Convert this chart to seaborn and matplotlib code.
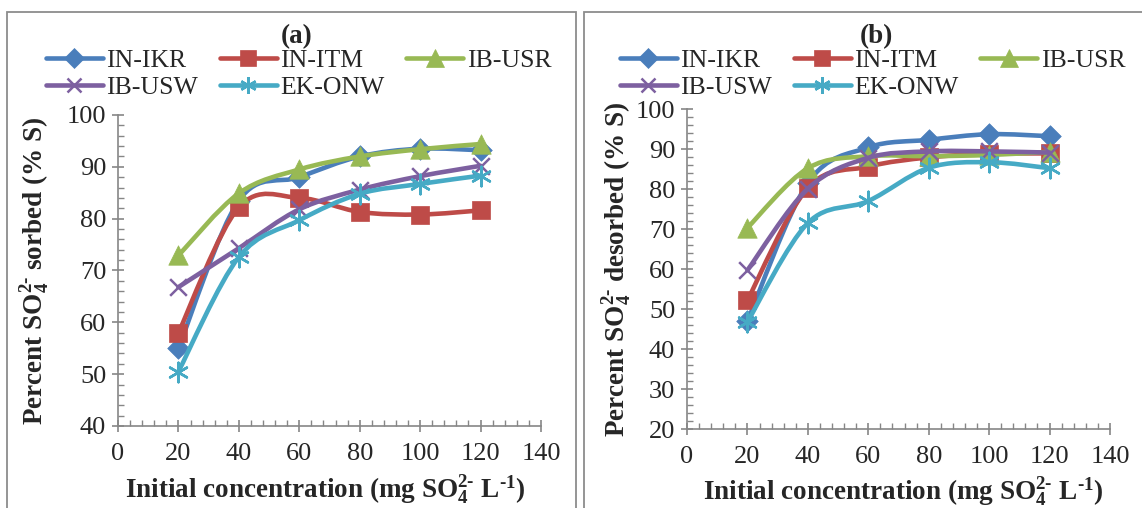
import numpy as np
import pandas as pd
import matplotlib
matplotlib.use("Agg")
import matplotlib.pyplot as plt
import seaborn as sns
from matplotlib.path import Path
from matplotlib.patches import PathPatch, Rectangle
from matplotlib.lines import Line2D

# ---------------- data ----------------
conc = [20, 40, 60, 80, 100, 120]
series_names = ["IN-IKR", "IN-ITM", "IB-USR", "IB-USW", "EK-ONW"]

# (a) percent sorbed
a_in_ikr = [55.0, 83.5, 88.0, 92.0, 93.5, 93.2]
a_in_itm = [58.0, 82.2, 84.0, 81.3, 80.8, 81.6]
a_ib_usr = [72.9, 84.9, 89.5, 92.0, 93.4, 94.4]
a_ib_usw = [66.8, 74.3, 81.8, 85.6, 88.2, 90.2]
a_ek_onw = [50.5, 72.6, 79.7, 84.8, 86.7, 88.3]

# (b) percent desorbed
b_in_ikr = [47.0, 81.5, 90.4, 92.3, 93.7, 93.2]
b_in_itm = [52.2, 80.3, 85.6, 87.9, 88.8, 88.9]
b_ib_usr = [70.3, 85.2, 88.2, 88.2, 88.5, 89.3]
b_ib_usw = [59.7, 80.1, 87.8, 89.4, 89.4, 89.1]
b_ek_onw = [46.8, 71.5, 77.0, 85.3, 86.7, 85.2]

panel_a = [a_in_ikr, a_in_itm, a_ib_usr, a_ib_usw, a_ek_onw]
panel_b = [b_in_ikr, b_in_itm, b_ib_usr, b_ib_usw, b_ek_onw]

x_ticks = [0, 20, 40, 60, 80, 100, 120, 140]

# ---------------- style ----------------
sns.set_theme(style="white")
plt.rcParams["font.family"] = ["Liberation Serif", "DejaVu Serif"]
plt.rcParams["mathtext.fontset"] = "custom"
plt.rcParams["mathtext.rm"] = "Liberation Serif"
plt.rcParams["mathtext.it"] = "Liberation Serif:italic"
plt.rcParams["mathtext.bf"] = "Liberation Serif:bold"

colors = ["#4A7EBB", "#BE4B48", "#98B954", "#7D60A0", "#46AAC5"]
markers = ["D", "s", "^", "x", (6, 2, 0)]
msizes = [11, 13, 14, 12, 14]
GRAY = "#868686"
FS_TICK = 19
FS = 19.5
FS_LEG = 18.5
LW = 3.3
HY = "\u2010"  # typographic hyphen (no operator spacing in mathtext)

fig = plt.figure(figsize=(11.42, 5.08), dpi=100)

# panel borders (chart area frames)
fig.patches.append(Rectangle((7 / 1142, -0.02), (576 - 7) / 1142, 1.02 - 12 / 508,
                             transform=fig.transFigure, fill=False, edgecolor="#8c8c8c", lw=1.3))
fig.patches.append(Rectangle((584 / 1142, -0.02), 0.6, 1.02 - 12 / 508,
                             transform=fig.transFigure, fill=False, edgecolor="#8c8c8c", lw=1.3))

ax_a = fig.add_axes([118 / 1142, 1 - 426 / 508, 423 / 1142, 311 / 508])
ax_b = fig.add_axes([687 / 1142, 1 - 429 / 508, 423 / 1142, 320 / 508])


def smooth_path(xs, ys):
    """Excel-style smoothed line: cubic Bezier through the data points (Catmull-Rom)."""
    pts = np.column_stack([xs, ys]).astype(float)
    n = len(pts)
    verts = [pts[0]]
    codes = [Path.MOVETO]
    for i in range(n - 1):
        p0 = pts[i - 1] if i > 0 else pts[i]
        p1 = pts[i]
        p2 = pts[i + 1]
        p3 = pts[i + 2] if i + 2 < n else pts[i + 1]
        c1 = p1 + (p2 - p0) / 6.0
        c2 = p2 - (p3 - p1) / 6.0
        verts += [c1, c2, p2]
        codes += [Path.CURVE4] * 3
    return Path(verts, codes)


SO4 = r"SO$_\mathbf{4}^\mathbf{2" + HY + "}$"
XLABEL = r"Initial concentration (mg " + SO4 + r" L$^\mathbf{" + HY + "1}$)"


def draw_panel(ax, data, ylim, yticks, ylabel, title, legend_x, title_x):
    for k, (name, ys) in enumerate(zip(series_names, data)):
        c = colors[k]
        patch = PathPatch(smooth_path(conc, ys), facecolor="none", edgecolor=c,
                          lw=LW, capstyle="round", joinstyle="round",
                          transform=ax.transData, zorder=2 + 2 * k)
        ax.add_patch(patch)
        df = pd.DataFrame({"x": conc, "y": ys})
        filled = k < 3
        kw = dict(marker=markers[k], s=msizes[k] ** 2, color=c, zorder=3 + 2 * k, legend=False)
        if filled:
            kw.update(edgecolor=c, linewidth=0.5)
        else:
            kw.update(linewidth=1.8)
        sns.scatterplot(data=df, x="x", y="y", ax=ax, **kw)

    ax.set_xlim(0, 140)
    ax.set_ylim(*ylim)
    ax.set_xticks(x_ticks)
    ax.set_yticks(yticks)
    ax.set_xticks(np.arange(0, 141, 4), minor=True)
    ax.set_yticks(np.arange(ylim[0], ylim[1] + 0.1, 2), minor=True)
    for s in ["top", "right"]:
        ax.spines[s].set_visible(False)
    for s in ["left", "bottom"]:
        ax.spines[s].set_color(GRAY)
        ax.spines[s].set_linewidth(1.2)
    ax.tick_params(which="major", direction="inout", length=9, width=1.2, color=GRAY,
                   labelsize=FS_TICK, pad=4, left=True, bottom=True)
    ax.tick_params(which="minor", direction="in", length=4, width=1.0, color=GRAY,
                   left=True, bottom=True)
    ax.tick_params(axis="x", which="major", pad=8)
    ax.grid(False)
    ax.set_facecolor("none")

    ax.set_xlabel(XLABEL, fontsize=FS, fontweight="bold")
    ax.set_ylabel(ylabel, fontsize=FS, fontweight="bold")
    ax.set_title(title, fontsize=FS, fontweight="bold", pad=0,
                 x=title_x, y=1.0, va="top")

    order = [0, 3, 1, 4, 2]  # fill legend row by row like the original
    handles = [Line2D([0], [0], color=colors[k], lw=LW, marker=markers[k],
                      markersize=msizes[k] * (0.9 if k < 3 else 0.85),
                      markeredgewidth=1.8 if k >= 3 else 0.5,
                      markeredgecolor=colors[k], solid_capstyle="round")
               for k in order]
    ax.legend(handles, [series_names[k] for k in order], loc="upper left", ncol=3,
              frameon=False,
              bbox_to_anchor=(legend_x / 1142, 1 - 49 / 508), bbox_transform=fig.transFigure,
              borderpad=0, borderaxespad=0, fontsize=FS_LEG, handlelength=2.2,
              handletextpad=0.15, columnspacing=0.85, labelspacing=0.15)


draw_panel(ax_a, panel_a, (40, 100), [40, 50, 60, 70, 80, 90, 100],
           "Percent " + SO4 + " sorbed (% S)", "(a)", 46, (297 - 118) / 423)
draw_panel(ax_b, panel_b, (20, 100), [20, 30, 40, 50, 60, 70, 80, 90, 100],
           "Percent " + SO4 + " desorbed (% S)", "(b)", 620, (876 - 687) / 423)

# title vertical placement (top of text ~24 px from top of image)
ax_a.title.set_y((426 - 24) / 311)
ax_b.title.set_y((429 - 24) / 320)

ax_a.yaxis.set_label_coords(-0.155, 0.5)
ax_b.yaxis.set_label_coords(-0.125, 0.5)
ax_a.xaxis.set_label_coords(0.49, -0.152)
ax_b.xaxis.set_label_coords(0.51, -0.145)

fig.savefig("out.png", dpi=100, facecolor="white")
